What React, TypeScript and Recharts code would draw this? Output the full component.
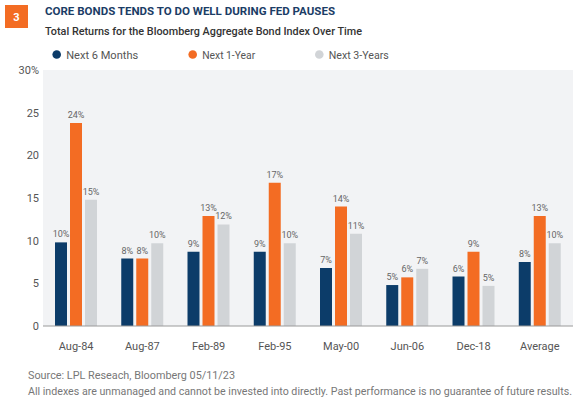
import React from "react";
import {
  BarChart,
  Bar,
  XAxis,
  YAxis,
  CartesianGrid,
  Legend,
  LabelList,
} from "recharts";

const categories = ["Aug-84", "Aug-87", "Feb-89", "Feb-95", "May-00", "Jun-06", "Dec-18", "Average"];
const next6Months = [9.8, 7.9, 8.7, 8.7, 6.8, 4.8, 5.8, 7.5];
const next1Year = [23.8, 7.9, 12.9, 16.8, 14.0, 5.7, 8.7, 12.9];
const next3Years = [14.8, 9.7, 11.9, 9.7, 10.8, 6.7, 4.7, 9.7];
const yTicks = [0, 5, 10, 15, 20, 25, 30];

const NAVY = "#0c3c69";
const ORANGE = "#f36c23";
const GRAY = "#d1d4d7";

const data = categories.map((name, i) => ({
  name,
  m6: next6Months[i],
  y1: next1Year[i],
  y3: next3Years[i],
}));

const font = "Roboto, 'Noto Sans', sans-serif";

// legend layout: dot x, text width
const legendItems = [
  { label: "Next 6 Months", color: NAVY, x: 56.7, w: 72 },
  { label: "Next 1-Year", color: ORANGE, x: 192.7, w: 53 },
  { label: "Next 3-Years", color: GRAY, x: 319.3, w: 60 },
];

// legend is drawn in the top 70px band; its height becomes the plot's top offset
const renderLegend = () => (
  <svg width={586} height={70} style={{ display: "block" }} fontFamily={font}>
    {legendItems.map((it) => (
      <g key={it.label}>
        <circle cx={it.x} cy={54.5} r={4.3} fill={it.color} />
        <text
          x={it.x + 9.5}
          y={58.5}
          fontSize={11}
          fill="#555"
          textLength={it.w}
          lengthAdjust="spacingAndGlyphs"
        >
          {it.label}
        </text>
      </g>
    ))}
  </svg>
);

const pct = (v: any) => `${Math.round(Number(v))}%`;

export default function App() {
  return (
    <div style={{ position: "absolute", left: 0, top: 0, width: 586, height: 410, background: "#fff" }}>
      <BarChart
        width={586}
        height={410}
        data={data}
        margin={{ top: 0, right: 13, bottom: 54, left: 3 }}
        barSize={12}
        barGap={3}
      >
        <CartesianGrid fill="#f2f3f5" horizontal={false} vertical={false} stroke="none" />
        <XAxis
          dataKey="name"
          height={30}
          axisLine={{ stroke: "#9a9a9a" }}
          tickLine={false}
          tickSize={0}
          tickMargin={16}
          interval={0}
          tick={{ fill: "#555", fontSize: 11, fontFamily: font }}
        />
        <YAxis
          width={40}
          domain={[0, 30]}
          ticks={yTicks}
          axisLine={false}
          tickLine={false}
          tickSize={0}
          tickMargin={4}
          tickFormatter={(v) => (v === 30 ? "30%" : String(v))}
          tick={{ fill: "#555", fontSize: 11, fontFamily: font }}
        />
        <Legend
          verticalAlign="top"
          content={renderLegend}
          wrapperStyle={{ top: 0, left: 0, width: 586, height: 70 }}
        />
        <Bar dataKey="m6" name="Next 6 Months" fill={NAVY} isAnimationActive={false}>
          <LabelList dataKey="m6" position="top" offset={5} formatter={pct} fill="#666" fontSize={9} fontFamily={font} />
        </Bar>
        <Bar dataKey="y1" name="Next 1-Year" fill={ORANGE} isAnimationActive={false}>
          <LabelList dataKey="y1" position="top" offset={5} formatter={pct} fill="#666" fontSize={9} fontFamily={font} />
        </Bar>
        <Bar dataKey="y3" name="Next 3-Years" fill={GRAY} isAnimationActive={false}>
          <LabelList dataKey="y3" position="top" offset={5} formatter={pct} fill="#666" fontSize={9} fontFamily={font} />
        </Bar>
      </BarChart>
      <svg
        width={586}
        height={410}
        style={{ position: "absolute", left: 0, top: 0, pointerEvents: "none" }}
        fontFamily={font}
      >
        <rect x={5} y={5} width={23} height={23} fill={ORANGE} />
        <text x={16.5} y={20.5} textAnchor="middle" fill="#fff" fontSize={11} fontWeight={700}>
          3
        </text>
        <text x={45} y={15} fill="#1b3d66" fontSize={11.5} fontWeight={700} textLength={290} lengthAdjust="spacingAndGlyphs">
          CORE BONDS TENDS TO DO WELL DURING FED PAUSES
        </text>
        <text x={45} y={35} fill="#333" fontSize={11.5} fontWeight={500} textLength={317} lengthAdjust="spacingAndGlyphs">
          Total Returns for the Bloomberg Aggregate Bond Index Over Time
        </text>
        <text x={28} y={379} fill="#777" fontSize={10.5} textLength={207} lengthAdjust="spacingAndGlyphs">
          Source:  LPL Reseach, Bloomberg  05/11/23
        </text>
        <text x={28} y={395} fill="#777" fontSize={10.5} textLength={544} lengthAdjust="spacingAndGlyphs">
          All indexes are unmanaged and cannot be invested into directly. Past performance is no guarantee of future results.
        </text>
      </svg>
    </div>
  );
}
